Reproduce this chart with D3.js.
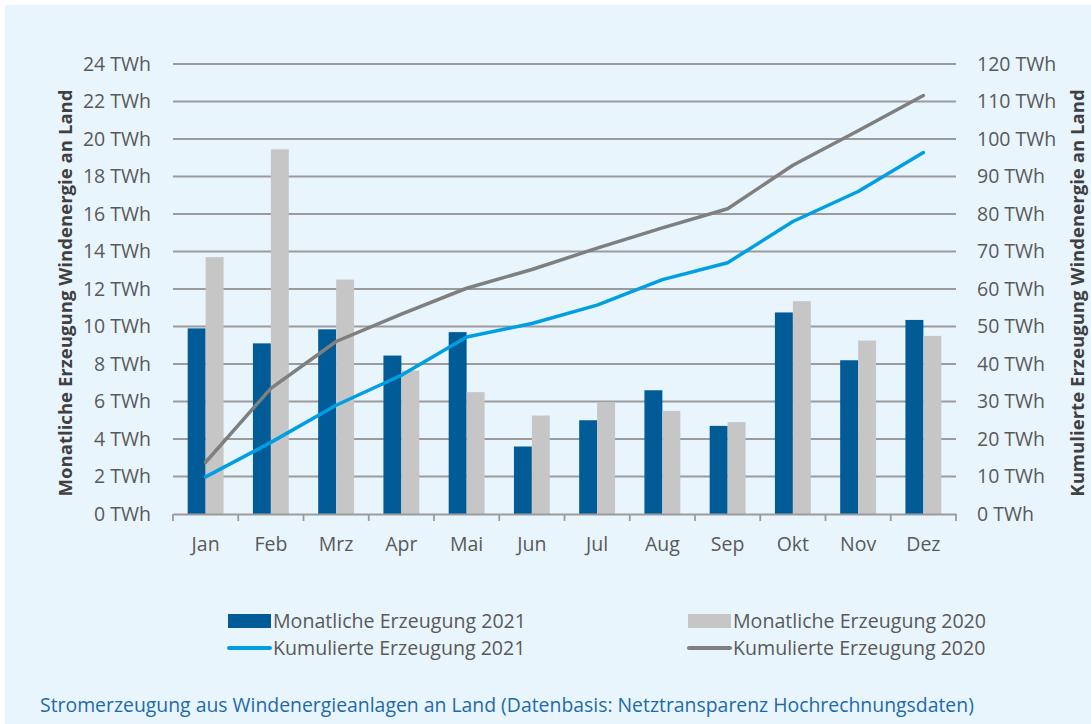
<!DOCTYPE html>
<html>
<head>
<meta charset="utf-8">
<script src="https://cdn.jsdelivr.net/npm/d3@7"></script>
<style>
  html, body { margin: 0; padding: 0; background: #ffffff; }
  svg { display: block; }
  text { font-family: "Open Sans", "Noto Sans", sans-serif; }
</style>
</head>
<body>
<svg id="chart" width="1091" height="724"></svg>
<script>
const months = ["Jan","Feb","Mrz","Apr","Mai","Jun","Jul","Aug","Sep","Okt","Nov","Dez"];
const monthly2021 = [9.9, 9.1, 9.85, 8.45, 9.7, 3.6, 5.0, 6.6, 4.7, 10.75, 8.2, 10.35];
const monthly2020 = [13.7, 19.45, 12.5, 7.65, 6.5, 5.25, 5.95, 5.5, 4.9, 11.35, 9.25, 9.5];
const cumulative2021 = [9.9, 19.1, 29.0, 37.0, 47.2, 50.8, 55.7, 62.5, 67.0, 78.0, 86.0, 96.4];
const cumulative2020 = [13.8, 33.5, 46.0, 53.3, 60.2, 65.2, 70.9, 76.3, 81.4, 93.0, 102.2, 111.6];
const leftTicks = [0,2,4,6,8,10,12,14,16,18,20,22,24];
const rightTicks = [0,10,20,30,40,50,60,70,80,90,100,110,120];
const leftTitle = "Monatliche Erzeugung Windenergie an Land";
const rightTitle = "Kumulierte Erzeugung Windenergie an Land";
const legendLabels = ["Monatliche Erzeugung 2021","Monatliche Erzeugung 2020","Kumulierte Erzeugung 2021","Kumulierte Erzeugung 2020"];
const caption = "Stromerzeugung aus Windenergieanlagen an Land (Datenbasis: Netztransparenz Hochrechnungsdaten)";

const C = { dark: "#005b96", lightBar: "#c6c6c6", blue: "#009fe3", greyLine: "#7f7f7f", grid: "#9b9b9b", text: "#595959", title: "#404040", caption: "#1e6aa8", bg: "#e9f5fd" };

const svg = d3.select("#chart");
svg.append("rect").attr("x", 5).attr("y", 5).attr("width", 1086).attr("height", 719).attr("fill", C.bg);

const L = 173, R = 956, T = 64, B = 514;
const x0 = d3.scaleBand().domain(months).range([L, R]).padding(0);
const bw = x0.bandwidth();
const x1 = d3.scaleBand().domain(["2021","2020"]).range([bw*0.225, bw*0.775]).padding(0);
const yL = d3.scaleLinear().domain([0, 24]).range([B, T]);
const yR = d3.scaleLinear().domain([0, 120]).range([B, T]);

// gridlines
svg.append("g").selectAll("line").data(leftTicks.filter(d => d > 0)).join("line")
  .attr("x1", L).attr("x2", R).attr("y1", d => yL(d)).attr("y2", d => yL(d))
  .attr("stroke", C.grid).attr("stroke-width", 1.8);

const tickFont = 19.5;
const fmt = d => d + " TWh";
const gl = svg.append("g").attr("transform", `translate(${L},0)`)
  .call(d3.axisLeft(yL).tickValues(leftTicks).tickFormat(fmt).tickSize(0).tickPadding(22));
gl.select(".domain").remove();
gl.selectAll("text").attr("font-size", tickFont).attr("fill", C.text).attr("font-family", "'Open Sans', sans-serif");

const gr = svg.append("g").attr("transform", `translate(${R},0)`)
  .call(d3.axisRight(yR).tickValues(rightTicks).tickFormat(fmt).tickSize(0).tickPadding(21));
gr.select(".domain").remove();
gr.selectAll("text").attr("font-size", tickFont).attr("fill", C.text).attr("font-family", "'Open Sans', sans-serif");

// bars
const rows = months.map((m, i) => ({ m, v: [{k:"2021", v: monthly2021[i]}, {k:"2020", v: monthly2020[i]}] }));
svg.append("g").selectAll("g").data(rows).join("g")
  .attr("transform", d => `translate(${x0(d.m)},0)`)
  .selectAll("rect").data(d => d.v).join("rect")
  .attr("x", d => x1(d.k)).attr("width", x1.bandwidth())
  .attr("y", d => yL(d.v)).attr("height", d => yL(0) - yL(d.v))
  .attr("fill", d => d.k === "2021" ? C.dark : C.lightBar);

// x axis
const gx = svg.append("g").attr("transform", `translate(0,${B})`)
  .call(d3.axisBottom(x0).tickSize(0).tickPadding(23));
gx.select(".domain").attr("stroke", C.grid).attr("stroke-width", 1.8);
gx.selectAll("text").attr("font-size", tickFont).attr("fill", C.text).attr("font-family", "'Open Sans', sans-serif");
const bounds = months.map(m => x0(m)).concat([R]);
svg.append("g").selectAll("line").data(bounds).join("line")
  .attr("x1", d => d).attr("x2", d => d).attr("y1", B).attr("y2", B + 7)
  .attr("stroke", C.grid).attr("stroke-width", 1.8);

// lines
const line = d3.line().x((d, i) => x0(months[i]) + bw/2).y(d => yR(d));
svg.append("path").datum(cumulative2020).attr("d", line).attr("fill", "none")
  .attr("stroke", C.greyLine).attr("stroke-width", 3.5).attr("stroke-linejoin", "round").attr("stroke-linecap", "round");
svg.append("path").datum(cumulative2021).attr("d", line).attr("fill", "none")
  .attr("stroke", C.blue).attr("stroke-width", 3.5).attr("stroke-linejoin", "round").attr("stroke-linecap", "round");

// axis titles
svg.append("text").attr("transform", `translate(72,${(T+B)/2 + 4}) rotate(-90)`)
  .attr("text-anchor", "middle").attr("font-size", 18.6).attr("font-weight", "bold").attr("fill", C.title)
  .text(leftTitle);
svg.append("text").attr("transform", `translate(1084,${(T+B)/2 + 4}) rotate(-90)`)
  .attr("text-anchor", "middle").attr("font-size", 18.6).attr("font-weight", "bold").attr("fill", C.title)
  .text(rightTitle);

// legend
const leg = svg.append("g");
const legItems = [
  {x: 228, y: 621, type: "rect", color: C.dark, label: legendLabels[0]},
  {x: 688, y: 621, type: "rect", color: C.lightBar, label: legendLabels[1]},
  {x: 228, y: 648, type: "line", color: C.blue, label: legendLabels[2]},
  {x: 688, y: 648, type: "line", color: C.greyLine, label: legendLabels[3]}
];
legItems.forEach(it => {
  if (it.type === "rect") {
    leg.append("rect").attr("x", it.x).attr("y", it.y - 7).attr("width", 43).attr("height", 14).attr("fill", it.color);
  } else {
    leg.append("line").attr("x1", it.x + 1).attr("x2", it.x + 42).attr("y1", it.y).attr("y2", it.y)
      .attr("stroke", it.color).attr("stroke-width", 4).attr("stroke-linecap", "round");
  }
  leg.append("text").attr("x", it.x + 45).attr("y", it.y).attr("dy", "0.35em")
    .attr("font-size", 19.6).attr("fill", C.text).text(it.label);
});

// caption
svg.append("text").attr("x", 40).attr("y", 705).attr("dy", "0.35em")
  .attr("font-size", 19.4).attr("fill", C.caption).text(caption);
</script>
</body>
</html>
